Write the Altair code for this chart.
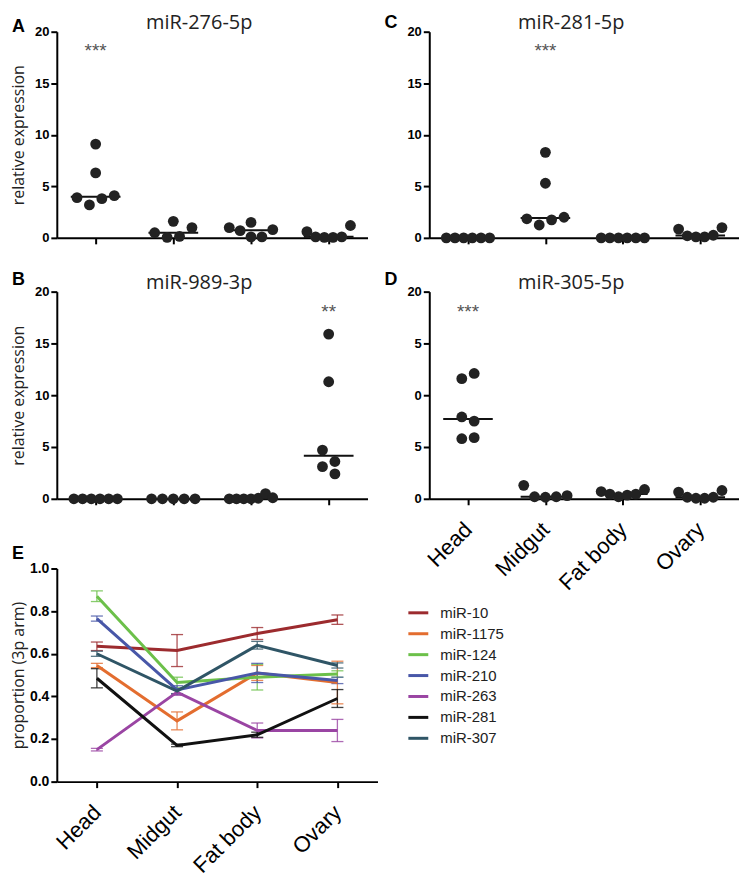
import altair as alt
import pandas as pd
import numpy as np

TISSUES = ["Head", "Midgut", "Fat body", "Ovary"]
LETTERS = ["A", "B", "C", "D", "E"]
TITLES = ["miR-276-5p", "miR-989-3p", "miR-281-5p", "miR-305-5p"]

# relative expression, one list per tissue (Head, Midgut, Fat body, Ovary)
MIR_276_5P = [
    [9.1, 6.3, 3.9, 3.2, 3.8, 4.1],
    [0.5, 1.6, 0.05, 0.15, 1.0],
    [1.0, 0.7, 1.5, 0.1, 0.1, 0.8],
    [0.6, 0.1, 0.05, 0.05, 0.1, 1.2],
]
MIR_989_3P = [
    [0, 0, 0, 0, 0, 0],
    [0, 0, 0, 0, 0],
    [0, 0, 0, 0, 0.05, 0.5, 0.1],
    [15.9, 11.3, 4.7, 3.6, 3.1, 2.4],
]
MIR_281_5P = [
    [0, 0, 0, 0, 0, 0],
    [8.3, 5.3, 1.85, 1.25, 1.75, 2.0],
    [0, 0, 0, 0, 0, 0],
    [0.85, 0.2, 0.1, 0.1, 0.25, 1.0],
]
MIR_305_5P = [
    [11.6, 12.1, 7.9, 7.5, 5.8, 5.9],
    [1.3, 0.2, 0.15, 0.2, 0.3],
    [0.7, 0.45, 0.2, 0.35, 0.45, 0.9],
    [0.65, 0.15, 0.05, 0.05, 0.15, 0.8],
]
SIG_TISSUE = [0, 3, 1, 0]
SIG_TEXT = ["***", "**", "***", "***"]
D_TICK_TEXT = {15: "5", 10: "0"}  # tick labels as printed on panel D

# panel E: proportion of 3p arm, mean and error per tissue
E_SERIES = ["miR-10", "miR-1175", "miR-124", "miR-210", "miR-263", "miR-281", "miR-307"]
E_COLORS = ["#9c2b2e", "#e36d2f", "#6cc04a", "#4857a8", "#9a45a3", "#111111", "#2f5566"]
E_MEAN = [
    [0.635, 0.615, 0.695, 0.76],
    [0.545, 0.285, 0.51, 0.465],
    [0.87, 0.465, 0.49, 0.505],
    [0.765, 0.43, 0.51, 0.475],
    [0.15, 0.42, 0.24, 0.24],
    [0.485, 0.17, 0.22, 0.39],
    [0.60, 0.425, 0.64, 0.545],
]
E_ERR = [
    [0.02, 0.075, 0.028, 0.022],
    [0.01, 0.042, 0.035, 0.10],
    [0.025, 0.025, 0.06, 0.015],
    [0.012, 0.02, 0.045, 0.015],
    [0.006, 0.015, 0.035, 0.052],
    [0.045, 0.006, 0.012, 0.042],
    [0.012, 0.012, 0.018, 0.012],
]

LABEL_FONT = "Liberation Sans"
TITLE_FONT = "Open Sans"
TISSUE_EXPR = "[" + ",".join("'%s'" % t for t in TISSUES) + "][datum.value]"
LETTER_X = -45


def spread(vals, thresh=1.2, step=0.16, maxspan=0.56):
    """Column-scatter layout: points of similar value share a row."""
    n = len(vals)
    order = sorted(range(n), key=lambda i: vals[i])
    clusters, cur = [], [order[0]]
    for i in order[1:]:
        if vals[i] - vals[cur[0]] < thresh - 1e-9:
            cur.append(i)
        else:
            clusters.append(cur)
            cur = [i]
    clusters.append(cur)
    offs = [0.0] * n
    for c in clusters:
        c = sorted(c)
        m = len(c)
        s = min(step, maxspan / (m - 1)) if m > 1 else 0
        for k, i in enumerate(c):
            offs[i] = (k - (m - 1) / 2) * s
    return offs


def letter_layer(letter, dy):
    return alt.Chart(pd.DataFrame({"letter": [letter]})).mark_text(
        font=LABEL_FONT, fontWeight="bold", fontSize=18, align="left",
        baseline="alphabetic", color="black"
    ).encode(text="letter:N", x=alt.value(LETTER_X), y=alt.value(dy))


def scatter_panel(values, k, width, height, ytitle, xlabels, letter_dy, d_labels=False):
    rows = []
    for ci, vals in enumerate(values):
        for v, o in zip(vals, spread(vals)):
            rows.append({"tissue": TISSUES[ci], "pos": ci + o, "value": v})
    pts = pd.DataFrame(rows)
    med = pd.DataFrame({
        "lo": [i - 0.32 for i in range(4)],
        "hi": [i + 0.32 for i in range(4)],
        "median": [float(np.median(v)) for v in values],
    })
    sig = pd.DataFrame({"pos": [SIG_TISSUE[k]], "y": [17.5], "t": [SIG_TEXT[k]]})

    xscale = alt.Scale(domain=[-0.5, 3.5], nice=False, zero=False)
    yscale = alt.Scale(domain=[0, 20], nice=False)
    if xlabels:
        xaxis = alt.Axis(values=[0, 1, 2, 3], title=None, labelExpr=TISSUE_EXPR,
                         labelAngle=-45, labelAlign="right", labelBaseline="middle",
                         labelFontSize=22, labelFontWeight="normal", labelPadding=21,
                         labelFont=LABEL_FONT)
    else:
        xaxis = alt.Axis(values=[0, 1, 2, 3], title=None, labels=False)
    yargs = dict(values=[0, 5, 10, 15, 20], labelPadding=2)
    if d_labels:
        expr = "".join("datum.value == %d ? '%s' : " % (kk, vv) for kk, vv in D_TICK_TEXT.items())
        yargs["labelExpr"] = expr + "datum.label"
    if ytitle:
        yaxis = alt.Axis(title="relative expression", titleX=-30, titleBaseline="bottom",
                         titleAngle=270, **yargs)
    else:
        yaxis = alt.Axis(title=None, **yargs)

    points = alt.Chart(pts).mark_circle(size=118, color="#222222", opacity=1).encode(
        x=alt.X("pos:Q", scale=xscale, axis=xaxis),
        y=alt.Y("value:Q", scale=yscale, axis=yaxis),
    )
    medians = alt.Chart(med).mark_rule(color="#111111", strokeWidth=2).encode(
        x="lo:Q", x2="hi:Q", y="median:Q"
    )
    stars = alt.Chart(sig).mark_text(font=LABEL_FONT, fontSize=19, color="#555555",
                                     baseline="alphabetic").encode(
        x="pos:Q", y="y:Q", text="t:N"
    )
    return alt.layer(medians, points, stars, letter_layer(LETTERS[k], letter_dy)).properties(
        width=width, height=height,
        title=alt.TitleParams(TITLES[k], font=TITLE_FONT, fontSize=20, fontWeight="normal",
                              color="#222222", offset=letter_dy - 15, frame="group", dx=-13),
    )


A = scatter_panel(MIR_276_5P, 0, 312, 207, True, False, 0)
B = scatter_panel(MIR_989_3P, 1, 312, 208, True, False, -7)
C = scatter_panel(MIR_281_5P, 2, 311, 207, False, False, -4)
D = scatter_panel(MIR_305_5P, 3, 311, 208, False, True, -7, d_labels=True)

# ---- panel E
erows, crows = [], []
for s, means, errs in zip(E_SERIES, E_MEAN, E_ERR):
    for i, (m, e) in enumerate(zip(means, errs)):
        erows.append({"series": s, "idx": i, "mean": m, "lo": m - e, "hi": m + e})
        for v in (m - e, m + e):
            crows.append({"series": s, "xl": i - 0.075, "xr": i + 0.075, "v": v})
edf = pd.DataFrame(erows)
cdf = pd.DataFrame(crows)
cscale = alt.Scale(domain=E_SERIES, range=E_COLORS)
exscale = alt.Scale(domain=[-0.5, 3.5], nice=False, zero=False)
eyscale = alt.Scale(domain=[0, 1], nice=False)
exaxis = alt.Axis(values=[0, 1, 2, 3], title=None, labelExpr=TISSUE_EXPR, labelAngle=-45,
                  labelAlign="right", labelBaseline="middle", labelFontSize=22,
                  labelFontWeight="normal", labelPadding=21, labelFont=LABEL_FONT)
eyaxis = alt.Axis(values=[0, 0.2, 0.4, 0.6, 0.8, 1.0], format=".1f", labelFontSize=14,
                  labelPadding=2, title="proportion (3p arm)", titleX=-30,
                  titleBaseline="bottom", titleAngle=270)

e_err = alt.Chart(edf).mark_rule(strokeWidth=1.3, opacity=0.8).encode(
    x=alt.X("idx:Q", scale=exscale, axis=exaxis),
    y=alt.Y("lo:Q", scale=eyscale, axis=eyaxis),
    y2="hi:Q",
    color=alt.Color("series:N", scale=cscale, legend=None),
)
e_caps = alt.Chart(cdf).mark_rule(strokeWidth=1.3, opacity=0.8).encode(
    x="xl:Q", x2="xr:Q", y="v:Q",
    color=alt.Color("series:N", scale=cscale, legend=None),
)
e_lines = alt.Chart(edf).mark_line(strokeWidth=3).encode(
    x="idx:Q", y="mean:Q",
    color=alt.Color("series:N", scale=cscale, legend=None),
    detail="series:N",
)
E = alt.layer(e_err, e_caps, e_lines, letter_layer(LETTERS[4], -10)).properties(width=322, height=214)

# ---- legend for panel E
ldf = pd.DataFrame({"series": E_SERIES})
lyscale = alt.Scale(domain=E_SERIES, paddingInner=0, paddingOuter=0)
leg_rules = alt.Chart(ldf).mark_rule(strokeWidth=3).encode(
    x=alt.value(-21), x2=alt.value(-1),
    y=alt.Y("series:N", scale=lyscale, axis=None),
    color=alt.Color("series:N", scale=cscale, legend=None),
)
leg_text = alt.Chart(ldf).mark_text(font=LABEL_FONT, fontSize=15, align="left",
                                    baseline="middle", color="#222222").encode(
    x=alt.value(11), y=alt.Y("series:N", scale=lyscale, axis=None), text="series:N"
)
LEG = alt.layer(leg_rules, leg_text).properties(width=110, height=147)

left = alt.vconcat(alt.vconcat(A, B, spacing=26), E, spacing=39)
right = alt.vconcat(alt.vconcat(C, D, spacing=26), LEG, spacing=8)

chart = alt.hconcat(left, right, spacing=7).properties(
    padding={"left": 2, "top": 3, "right": 0, "bottom": 8}
).configure_view(
    stroke=None
).configure_axis(
    domainColor="black", domainWidth=2, tickColor="black", tickWidth=2, tickSize=6,
    labelColor="black", labelFont=LABEL_FONT, labelFontWeight="bold", labelFontSize=13,
    grid=False, titleFont=TITLE_FONT, titleFontWeight="normal", titleFontSize=16,
    titleColor="#222222",
)

chart.save("out.html", embed_options={"renderer": "svg", "actions": False})
